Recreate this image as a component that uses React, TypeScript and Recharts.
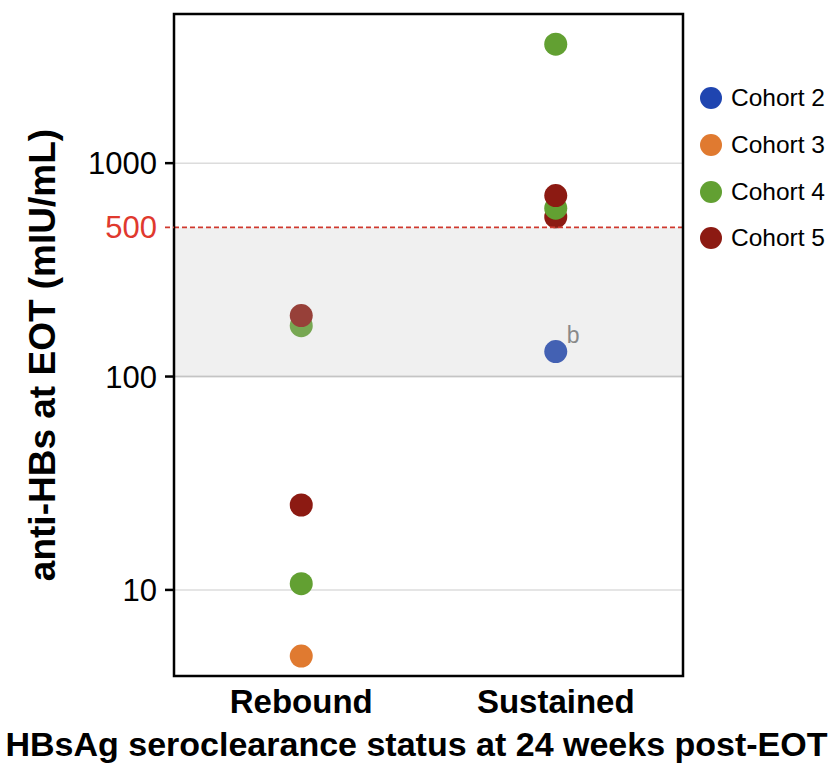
import React from "react";
import {
  ScatterChart,
  Scatter,
  XAxis,
  YAxis,
  ReferenceLine,
  ReferenceArea,
  Legend,
} from "recharts";

// ---- data ----
const categories = ["Rebound", "Sustained"];
const cohortNames = ["Cohort 2", "Cohort 3", "Cohort 4", "Cohort 5"];
const cohort2 = [{ status: "Sustained", value: 131, note: "b" }];
const cohort3 = [{ status: "Rebound", value: 4.9 }];
const cohort4 = [
  { status: "Rebound", value: 173 },
  { status: "Rebound", value: 10.7 },
  { status: "Sustained", value: 3610 },
  { status: "Sustained", value: 615 },
];
const cohort5 = [
  { status: "Rebound", value: 193 },
  { status: "Rebound", value: 25 },
  { status: "Sustained", value: 705 },
  { status: "Sustained", value: 560 },
];
const yTicks = [10, 100, 500, 1000];
const gridValues = [10, 100, 1000];
const threshold = 500;
const bandRange = [100, 500];
const yDomain = [3.95, 5000];
const xTitle = "HBsAg seroclearance status at 24 weeks post-EOT";
const yTitle = "anti-HBs at EOT (mIU/mL)";

const colors = ["#1f45b0", "#e07a30", "#62a032", "#8c1a12"];
const FONT = "Liberation Sans, Arial, Helvetica, sans-serif";

// combined table; drawn from low to high values so higher points sit on top
const points = [cohort2, cohort3, cohort4, cohort5]
  .flatMap((arr, ci) =>
    arr.map((d) => ({ ...d, cohort: ci, x: categories.indexOf(d.status) }))
  )
  .sort((a, b) => a.value - b.value);

const Dot = (props: any) => {
  const { cx, cy, payload } = props;
  return (
    <g>
      <circle cx={cx} cy={cy} r={11.5} fill={colors[payload.cohort]} />
      {payload && payload.note ? (
        <text
          x={cx + 11}
          y={cy - 9}
          fontSize={23}
          fill="#7a7a7a"
          fontFamily={FONT}
        >
          {payload.note}
        </text>
      ) : null}
    </g>
  );
};

const YTick = (props: any) => {
  const { x, y, payload } = props;
  const isThr = payload.value === threshold;
  const col = isThr ? "#e0392e" : "#000";
  return (
    <g>
      <line
        x1={x - 9}
        x2={x}
        y1={y}
        y2={y}
        stroke={isThr ? "#d0392e" : "#000"}
        strokeWidth={isThr ? 1.8 : 2.5}
        strokeDasharray={isThr ? "5 3" : undefined}
      />
      <text
        x={x - 17}
        y={y}
        dy={11}
        textAnchor="end"
        fontSize={31}
        fill={col}
        fontFamily={FONT}
      >
        {payload.value}
      </text>
    </g>
  );
};

const XTick = (props: any) => {
  const { x, y, payload } = props;
  return (
    <text
      x={x}
      y={y + 37}
      textAnchor="middle"
      fontSize={33}
      fontWeight="bold"
      fill="#000"
      fontFamily={FONT}
    >
      {categories[payload.value]}
    </text>
  );
};

const XTitle = (props: any) => {
  const vb = props.viewBox || {};
  return (
    <text
      x={vb.x + vb.width / 2 - 12}
      y={vb.y + 80}
      textAnchor="middle"
      fontSize={34}
      fontWeight="bold"
      fill="#000"
      fontFamily={FONT}
    >
      {xTitle}
    </text>
  );
};

const YTitle = (props: any) => {
  const vb = props.viewBox || {};
  const cx = vb.x + 42;
  const cy = vb.y + vb.height / 2 + 10;
  return (
    <text
      x={cx}
      y={cy}
      transform={`rotate(-90 ${cx} ${cy})`}
      textAnchor="middle"
      dominantBaseline="central"
      fontSize={37}
      fontWeight="bold"
      fill="#000"
      fontFamily={FONT}
    >
      {yTitle}
    </text>
  );
};

const LegendContent = () => (
  <div style={{ fontFamily: FONT }}>
    {cohortNames.map((n, i) => (
      <div
        key={n}
        style={{ display: "flex", alignItems: "center", height: 46.7 }}
      >
        <svg width={24} height={24} style={{ display: "block" }}>
          <circle cx={12} cy={12} r={11} fill={colors[i]} />
        </svg>
        <span style={{ marginLeft: 8, fontSize: 24.5, color: "#000" }}>{n}</span>
      </div>
    ))}
  </div>
);

export default function App() {
  return (
    <div style={{ position: "absolute", left: 0, top: 0 }}>
      <ScatterChart
        width={833}
        height={764}
        margin={{ top: 14, right: 16, bottom: 0, left: 0 }}
      >
        <XAxis
          type="number"
          dataKey="x"
          domain={[-0.5, 1.5]}
          ticks={[0, 1]}
          height={88}
          tickLine={false}
          tickSize={0}
          tickMargin={0}
          axisLine={false}
          tick={<XTick />}
          label={<XTitle />}
        />
        <YAxis
          type="number"
          dataKey="value"
          scale="log"
          domain={yDomain}
          allowDataOverflow
          ticks={yTicks}
          width={174}
          tickLine={false}
          tickSize={0}
          tickMargin={0}
          axisLine={false}
          tick={<YTick />}
          label={<YTitle />}
        />
        {gridValues.map((v) => (
          <ReferenceLine
            key={v}
            y={v}
            stroke="#dcdcdc"
            strokeWidth={1.5}
          />
        ))}
        <Scatter
          name="points"
          data={points}
          shape={Dot}
          isAnimationActive={false}
        />
        <ReferenceArea
          y1={bandRange[0]}
          y2={bandRange[1]}
          fill="#bfbfbf"
          fillOpacity={0.23}
          stroke="none"
          zIndex={700}
        />
        <ReferenceLine
          y={bandRange[0]}
          stroke="#c4c4c4"
          strokeWidth={1.5}
          zIndex={710}
        />
        <ReferenceLine
          y={threshold}
          stroke="#d0392e"
          strokeWidth={1.8}
          strokeDasharray="5 3"
          zIndex={720}
        />
        <ReferenceArea
          x1={-0.5}
          x2={1.5}
          y1={yDomain[0]}
          y2={yDomain[1]}
          fill="none"
          stroke="#000"
          strokeWidth={2.5}
          zIndex={730}
        />
        <Legend
          layout="vertical"
          verticalAlign="top"
          align="right"
          content={<LegendContent />}
          wrapperStyle={{ position: "absolute", left: 699, top: 75, width: 134 }}
        />
      </ScatterChart>
    </div>
  );
}
